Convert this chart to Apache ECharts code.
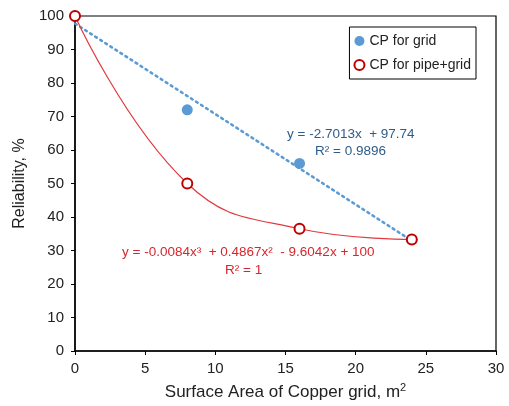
<!DOCTYPE html>
<html><head><meta charset="utf-8">
<script src="https://cdn.jsdelivr.net/npm/echarts@6/dist/echarts.min.js"></script>
<style>html,body{margin:0;padding:0;background:#fff}#c{width:509px;height:406px}</style>
</head><body><div id="c"></div>
<script>
const xGrid = [0, 8, 16, 24];
const yGrid = [100, 72, 56, 33.3];
const xPipe = [0, 8, 16, 24];
const yPipe = [100, 50, 36.5, 33.3];
const trendX = [0, 24];
const trendY = [97.74, 32.91];
const yTicks = [0, 10, 20, 30, 40, 50, 60, 70, 80, 90, 100];
const xTicks = [0, 5, 10, 15, 20, 25, 30];
const ff = 'Liberation Sans, Arial, sans-serif';

const chart = echarts.init(document.getElementById('c'));
chart.setOption({
  animation: false,
  grid: {left: 75, right: 13, top: 16, bottom: 55, show: true, borderColor: '#000', borderWidth: 1.2},
  xAxis: {type: 'value', min: 0, max: 30, interval: 5,
    name: 'Surface Area of Copper grid, m{s|2}', nameLocation: 'middle', nameGap: 31,
    nameTextStyle: {fontFamily: ff, fontSize: 17, color: '#222', rich: {s: {fontSize: 11, verticalAlign: 'top', padding: [0,0,9,0], fontFamily: ff, color:'#222'}}},
    axisLine: {lineStyle: {color: '#000', width: 1.5}}, axisTick: {inside: false, length: 4, lineStyle: {color: '#000'}},
    axisLabel: {fontFamily: ff, fontSize: 15, color: '#222', margin: 10}, splitLine: {show: false}},
  yAxis: {type: 'value', min: 0, max: 100, interval: 10,
    name: 'Reliability, %', nameLocation: 'middle', nameGap: 37, nameRotate: 90,
    nameTextStyle: {fontFamily: ff, fontSize: 16, color: '#222'},
    axisLine: {lineStyle: {color: '#000', width: 1.5}}, axisTick: {inside: false, length: 4, lineStyle: {color: '#000'}},
    axisLabel: {fontFamily: ff, fontSize: 15, color: '#222', margin: 11}, splitLine: {show: false}},
  legend: {right: 33, top: 27, orient: 'vertical', borderColor: '#000', borderWidth: 1, padding: [7, 5, 7, 4],
    itemGap: 10, itemWidth: 10, itemHeight: 10, textStyle: {fontFamily: ff, fontSize: 14, color: '#222'},
    data: [{name: 'CP for grid', icon: 'circle'}, {name: 'CP for pipe+grid', icon: 'circle'}]},
  series: [
    {name: 'trend', type: 'line', data: trendX.map((x, i) => [x, trendY[i]]), symbol: 'none',
      lineStyle: {color: '#5B9BD5', width: 2.5, type: [2, 4], cap: 'round'}, z: 1},
    {name: 'CP for pipe+grid', type: 'line', data: xPipe.map((x, i) => [x, yPipe[i]]), smooth: 0.45,
      symbol: 'circle', symbolSize: 10, lineStyle: {color: '#E0393E', width: 1.2},
      itemStyle: {color: '#fff', borderColor: '#C00000', borderWidth: 2}, z: 3},
    {name: 'CP for grid', type: 'scatter', data: xGrid.map((x, i) => [x, yGrid[i]]), symbolSize: 11,
      itemStyle: {color: '#5B9BD5', opacity: 1}, z: 2}
  ],
  graphic: [
    {type: 'text', left: 287, top: 127, style: {text: 'y = -2.7013x  + 97.74', fontFamily: ff, fontSize: 13.5, fill: '#2E5C8A'}},
    {type: 'text', left: 315, top: 144, style: {text: 'R² = 0.9896', fontFamily: ff, fontSize: 13.5, fill: '#2E5C8A'}},
    {type: 'text', left: 122, top: 245, style: {text: 'y = -0.0084x³  + 0.4867x²  - 9.6042x + 100', fontFamily: ff, fontSize: 13.5, fill: '#D9262C'}},
    {type: 'text', left: 225, top: 263, style: {text: 'R² = 1', fontFamily: ff, fontSize: 13.5, fill: '#D9262C'}}
  ]
});
</script></body></html>
